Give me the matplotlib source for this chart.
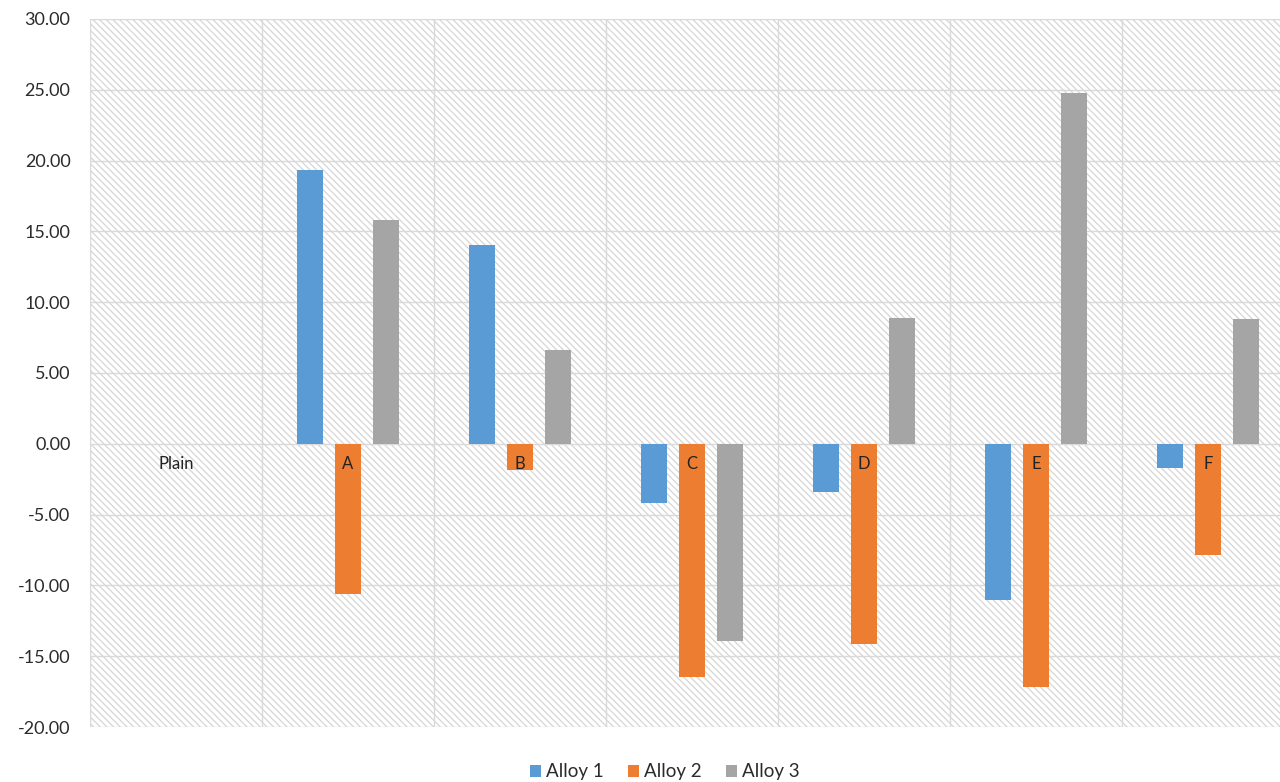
import numpy as np
import matplotlib.pyplot as plt
from matplotlib.patches import Rectangle

plt.rcParams['font.family'] = ['Lato', 'DejaVu Sans']
plt.rcParams['hatch.color'] = '#d6d6d6'
plt.rcParams['hatch.linewidth'] = 0.9

categories = ['Plain', 'A', 'B', 'C', 'D', 'E', 'F']
series_names = ['Alloy 1', 'Alloy 2', 'Alloy 3']
alloy1 = [0, 19.35, 14.05, -4.17, -3.39, -11.0, -1.70]
alloy2 = [0, -10.6, -1.84, -16.45, -14.12, -17.2, -7.84]
alloy3 = [0, 15.8, 6.64, -13.9, 8.9, 24.8, 8.83]
colors = ['#5b9bd5', '#ed7d31', '#a5a5a5']
yticks = np.arange(-20, 31, 5)

fig = plt.figure(figsize=(12.8, 7.82), dpi=100)
ax = fig.add_axes([90 / 1280, 1 - 727 / 782, 1204 / 1280, 708 / 782])

# hatched plot background
ax.add_patch(Rectangle((0, 0), 1, 1, transform=ax.transAxes, facecolor='white',
                       hatch='\\' * 5, edgecolor='#d6d6d6', linewidth=0, zorder=0))

x = np.arange(len(categories))
offsets = [-0.22, 0, 0.22]
for vals, off, c, name in zip([alloy1, alloy2, alloy3], offsets, colors, series_names):
    ax.bar(x + off, vals, width=0.15, color=c, label=name, zorder=3)

ax.set_xlim(-0.5, len(categories) - 0.5)
ax.set_ylim(-20, 30)
ax.set_yticks(yticks)
ax.set_yticklabels(['{:.2f}'.format(v) for v in yticks], fontsize=13, color='#2b2b2b')
ax.set_xticks(np.arange(len(categories) + 1) - 0.5)
ax.set_xticklabels([])
ax.tick_params(length=0, pad=14)
ax.grid(True, color='#d9d9d9', linewidth=1, zorder=1)

for xi, name in zip(x, categories):
    ax.text(xi, -1.4, name, ha='center', va='center', fontsize=12, color='#222222', zorder=4)

for s in ax.spines.values():
    s.set_visible(False)

fig.legend(loc='center', bbox_to_anchor=(665 / 1280, 1 - 772 / 782), ncol=3, frameon=False,
           fontsize=13.5, handlelength=0.55, handleheight=0.55, handletextpad=0.3,
           columnspacing=1.3, labelcolor='#2b2b2b')

fig.savefig('out.png', dpi=100)
